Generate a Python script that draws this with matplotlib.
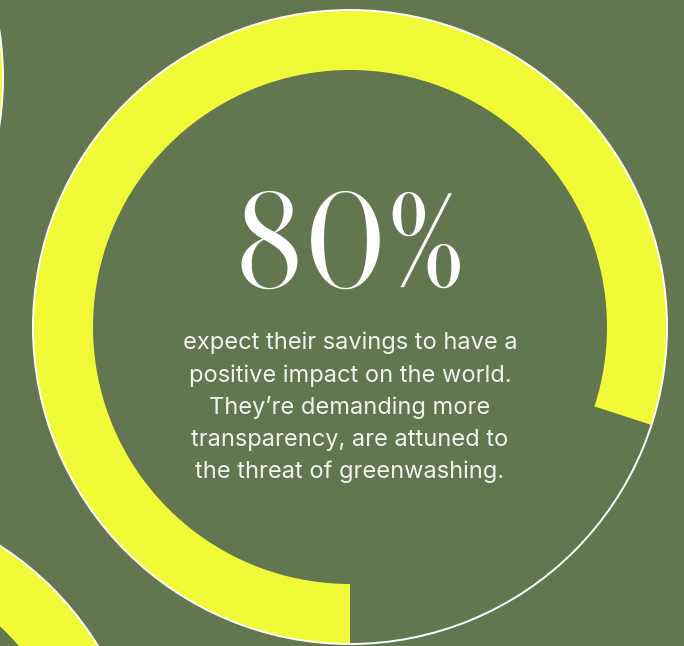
import matplotlib
matplotlib.use("Agg")
import matplotlib.pyplot as plt
from matplotlib.patches import Wedge, Circle

# Data
share_pct = 80
headline = f"{share_pct}%"
caption_lines = [
    "expect their savings to have a",
    "positive impact on the world.",
    "They\u2019re demanding more",
    "transparency, are attuned to",
    "the threat of greenwashing.",
]

BG = "#62764f"
YELLOW = "#f1fa37"
TEXT = "#f2f3ec"

W, H = 684, 646
fig = plt.figure(figsize=(W / 100, H / 100), dpi=100)
fig.patch.set_facecolor(BG)
ax = fig.add_axes([0, 0, 1, 1])
ax.set_xlim(0, W)
ax.set_ylim(0, H)
ax.set_aspect("equal")
ax.axis("off")
ax.set_facecolor(BG)


def ring(cx, cy, r_out, width, pct):
    # progress ring starting at 6 o'clock and running clockwise
    span = 360 * pct / 100
    start = 270 - span
    ax.add_patch(Wedge((cx, cy), r_out, start, 270, width=width,
                       facecolor=YELLOW, edgecolor="none", zorder=2))
    ax.add_patch(Circle((cx, cy), r_out, facecolor="none",
                        edgecolor="white", lw=1.4, zorder=3))


# main ring
cx, cy = 350, H - 327
ring(cx, cy, 317, 60, share_pct)

# neighbouring rings, partly outside the frame
ring(-314, H - 78, 317, 60, 100)
ring(-172, H - 812, 317, 64, 100)

ax.text(cx, H - 253, headline, ha="center", va="center",
        fontsize=97, family=["Libre Caslon Display", "Liberation Serif"],
        color="white", zorder=4)

y0 = H - 343
for i, line in enumerate(caption_lines):
    ax.text(cx, y0 - i * 32.3, line, ha="center", va="center",
            fontsize=17, family="Inter", color=TEXT, zorder=4)

fig.savefig("out.png", dpi=100, facecolor=BG)
